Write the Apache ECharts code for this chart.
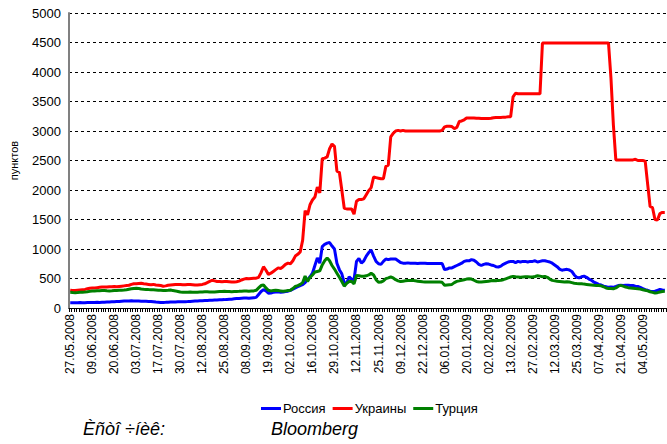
<!DOCTYPE html>
<html>
<head>
<meta charset="utf-8">
<script src="https://cdn.jsdelivr.net/npm/echarts@6/dist/echarts.min.js"></script>
<style>
  html, body { margin: 0; padding: 0; background: #fff; }
  #chart { width: 667px; height: 444px; }
</style>
</head>
<body>
<div id="chart"></div>
<script>
// tick labels: one every 9th trading day
const tickLabels = [
  '27.05.2008', '09.06.2008', '20.06.2008', '03.07.2008', '17.07.2008', '30.07.2008',
  '12.08.2008', '25.08.2008', '08.09.2008', '19.09.2008', '02.10.2008', '16.10.2008',
  '29.10.2008', '12.11.2008', '25.11.2008', '09.12.2008', '22.12.2008', '06.01.2009',
  '20.01.2009', '02.02.2009', '13.02.2009', '27.02.2009', '12.03.2009', '25.03.2009',
  '07.04.2009', '21.04.2009', '04.05.2009'
];

const seriesNames = ['Россия', 'Украины', 'Турция'];

// CDS, points (rows of 9 days)
const russia = [
  90, 90, 88, 90, 92, 90, 90, 92, 93,
  95, 95, 96, 95, 97, 98, 100, 102, 105,
  108, 110, 112, 115, 118, 120, 120, 122, 120,
  118, 118, 116, 115, 114, 112, 110, 105, 100,
  98, 95, 95, 96, 98, 100, 100, 102, 104,
  105, 106, 108, 110, 112, 115, 118, 120, 122,
  124, 126, 128, 130, 132, 135, 135, 138, 140,
  142, 145, 148, 150, 155, 160, 162, 165, 168,
  170, 165, 170, 175, 180, 230, 280, 310, 290,
  250, 255, 265, 270, 275, 265, 270, 280, 285,
  300, 320, 340, 360, 380, 395, 430, 480, 530,
  590, 720, 850, 760, 1040, 1080, 1100, 1110, 1050,
  1000, 760, 650, 580, 430, 420, 530, 490, 480,
  790, 840, 760, 800, 880, 940, 980, 880, 790,
  750, 740, 790, 830, 820, 830, 830, 830, 800,
  770, 760, 760, 765, 760, 760, 760, 755, 760,
  760, 760, 755, 755, 755, 755, 755, 755, 755,
  650, 660, 680, 680, 700, 720, 740, 760, 790,
  800, 800, 820, 810, 780, 740, 720, 740, 750,
  745, 730, 720, 700, 695, 710, 740, 760, 780,
  790, 790, 770, 790, 780, 790, 790, 780, 790,
  790, 800, 780, 790, 800, 800, 790, 780, 760,
  730, 700, 660, 640, 650, 655, 645, 620, 560,
  520, 510, 530, 540, 520, 490, 470, 440, 420,
  400, 390, 370, 360, 350, 355, 350, 365, 380,
  385, 380, 385, 385, 380, 380, 370, 365, 350,
  330, 310, 300, 285, 280, 285, 300, 315, 305,
  300
];

const ukraine = [
  300, 295, 295, 300, 305, 310, 315, 325, 335,
  340, 340, 345, 350, 355, 355, 355, 360, 360,
  365, 360, 365, 370, 375, 380, 385, 400, 410,
  410, 415, 420, 410, 405, 400, 395, 400, 390,
  385, 380, 370, 375, 385, 390, 395, 400, 400,
  400, 395, 395, 400, 400, 395, 390, 390, 395,
  400, 410, 430, 450, 470, 460, 450, 450, 445,
  450, 450, 445, 440, 440, 445, 455, 475, 490,
  500, 495, 500, 505, 505, 520, 600, 700, 640,
  570, 590, 620, 650, 680, 670, 700, 740, 760,
  750, 800, 880, 910, 950, 1150, 1650, 1580, 1750,
  1830, 1880, 2050, 1950, 2530, 2540, 2560, 2700, 2780,
  2740, 2320, 2300, 2000, 1690, 1680, 1680, 1680, 1590,
  1810, 1840, 1840, 1850, 1920, 1990, 2040, 2220, 2210,
  2200, 2190, 2190, 2400, 2420, 2900, 2960, 3000, 3010,
  3000, 3010, 3000, 3000, 3000, 3000, 3000, 3000, 3000,
  3000, 3000, 3000, 3000, 3000, 3000, 3000, 3000, 3010,
  3070, 3080, 3080, 3075, 3040, 3060, 3160, 3170, 3190,
  3220, 3220, 3220, 3220, 3215, 3215, 3210, 3210, 3210,
  3210, 3215, 3225, 3230, 3230, 3230, 3235, 3235, 3240,
  3240, 3580, 3640, 3630, 3630, 3630, 3630, 3630, 3630,
  3630, 3630, 3630, 3630, 4490, 4490, 4490, 4490, 4490,
  4490, 4490, 4490, 4490, 4490, 4490, 4490, 4490, 4490,
  4490, 4490, 4490, 4490, 4490, 4490, 4490, 4490, 4490,
  4490, 4490, 4490, 4490, 4490, 3900, 3100, 2510, 2510,
  2510, 2510, 2510, 2510, 2510, 2510, 2520, 2500, 2500,
  2500, 2490, 2100, 1720, 1700, 1500, 1490, 1600, 1620,
  1620
];

const turkey = [
  265, 262, 260, 262, 265, 268, 270, 275, 282,
  288, 290, 292, 292, 295, 295, 292, 290, 292,
  295, 298, 300, 302, 305, 310, 318, 325, 332,
  335, 330, 322, 318, 315, 312, 310, 308, 305,
  302, 300, 298, 296, 300, 305, 295, 290, 280,
  270, 268, 265, 268, 270, 268, 265, 268, 270,
  272, 275, 275, 272, 270, 272, 275, 278, 280,
  282, 280, 278, 275, 278, 280, 282, 285, 288,
  290, 285, 288, 290, 300, 340, 380, 390, 340,
  300, 290, 295, 300, 295, 290, 285, 290, 295,
  300, 330, 366, 380, 400, 430, 540, 450, 520,
  560, 610, 620, 630, 730, 800, 850, 800, 720,
  660, 590, 520, 450, 370, 420, 450, 450, 410,
  550, 545, 540, 540, 545, 560, 590, 560, 480,
  435, 440, 460, 497, 510, 525, 510, 480, 460,
  450, 455, 460, 465, 468, 470, 460, 455, 450,
  445, 442, 440, 440, 440, 440, 440, 440, 435,
  385, 390, 395, 400, 430, 451, 460, 470, 480,
  490, 497, 490, 470, 450, 440, 440, 445, 450,
  455, 460, 465, 462, 468, 470, 480, 495, 510,
  525, 536, 530, 525, 520, 525, 530, 528, 525,
  525, 535, 547, 540, 530, 536, 520, 490, 468,
  460, 455, 450, 445, 440, 445, 440, 430, 420,
  415, 412, 412, 405, 400, 395, 390, 385, 383,
  383, 375, 360, 340, 330, 330, 327, 340, 370,
  383, 370, 355, 345, 340, 335, 330, 327, 320,
  310, 300, 290, 275, 265, 254, 260, 270, 280,
  285
];

const days = russia.map((v, i) => i);
const colors = ['#0000ff', '#ff0000', '#008000'];
const font = '"Liberation Sans", Arial, sans-serif';

const chart = echarts.init(document.getElementById('chart'), null, { renderer: 'svg' });

function line(name, data, color) {
  return {
    name: name,
    type: 'line',
    data: data,
    symbol: 'none',
    animation: false,
    lineStyle: { color: color, width: 3 },
    itemStyle: { color: color }
  };
}

chart.setOption({
  animation: false,
  grid: { left: 61, right: 1, top: 13, bottom: 136 },
  legend: {
    left: 256,
    top: 397,
    itemWidth: 20,
    itemHeight: 3,
    itemGap: 7,
    icon: 'rect',
    textStyle: { fontFamily: font, fontSize: 13, color: '#000', padding: [0, 0, 0, -3] },
    data: seriesNames
  },
  xAxis: {
    type: 'category',
    data: days,
    boundaryGap: true,
    axisLine: { lineStyle: { color: '#000', width: 1 } },
    axisTick: { show: true, interval: 0, length: 4, lineStyle: { color: '#000', width: 1 } },
    axisLabel: {
      interval: 8,
      rotate: 90,
      margin: 6,
      fontFamily: font,
      fontSize: 12,
      color: '#000',
      formatter: (v, i) => tickLabels[i / 9] || ''
    },
    splitLine: { show: false }
  },
  yAxis: {
    type: 'value',
    min: 0,
    max: 5000,
    interval: 500,
    name: 'пунктов',
    nameLocation: 'middle',
    nameRotate: 90,
    nameGap: 50,
    nameTextStyle: { fontFamily: font, fontSize: 11, color: '#000' },
    axisLine: { show: true, lineStyle: { color: '#808080', width: 2 } },
    axisTick: { show: false },
    axisLabel: { fontFamily: font, fontSize: 13, color: '#000', margin: 8, formatter: (v) => String(v) },
    splitLine: { lineStyle: { color: '#000', type: [3, 3], width: 1 } }
  },
  series: [
    line(seriesNames[0], russia, colors[0]),
    line(seriesNames[1], ukraine, colors[1]),
    line(seriesNames[2], turkey, colors[2])
  ],
  graphic: [
    {
      type: 'text', left: 83, top: 420,
      style: { text: 'Èñòî ÷íèê:', fontFamily: font, fontStyle: 'italic', fontSize: 18, fill: '#000' }
    },
    {
      type: 'text', left: 271, top: 420,
      style: { text: 'Bloomberg', fontFamily: font, fontStyle: 'italic', fontSize: 18, fill: '#000' }
    }
  ]
});
</script>
</body>
</html>
